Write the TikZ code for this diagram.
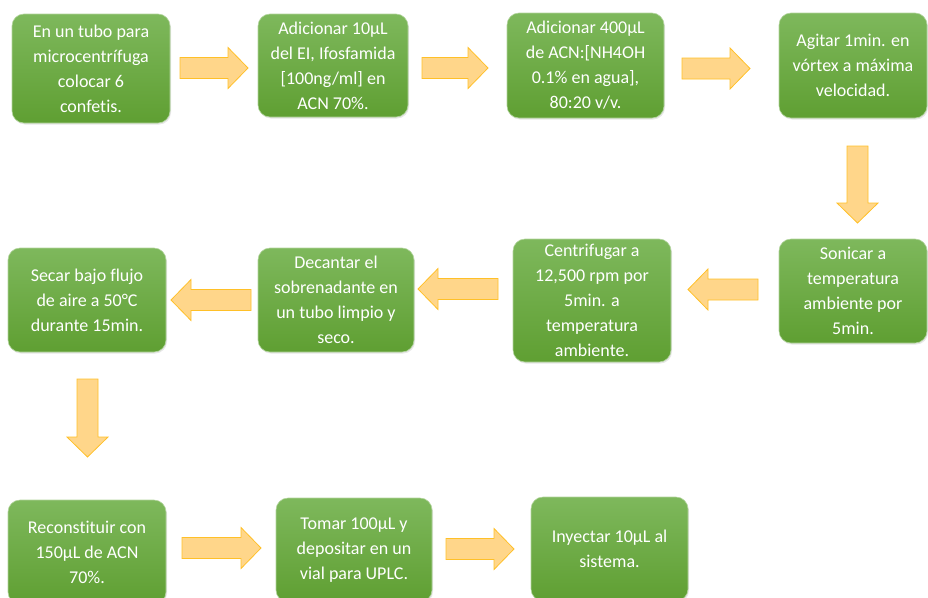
\documentclass[tikz,border=0pt]{standalone}
\usepackage{fontspec}
\setmainfont{Carlito}[Ligatures=NoCommon]
\usetikzlibrary{calc, shadows}
\definecolor{verdearriba}{RGB}{126,184,92}
\definecolor{verdeabajo}{RGB}{95,159,50}
\definecolor{naranjarelleno}{RGB}{255,214,138}
\definecolor{naranjaborde}{RGB}{255,192,40}
\tikzset{
paso/.style={rectangle, rounded corners=12pt, inner sep=0pt,
  top color=verdearriba, bottom color=verdeabajo,
  draw=verdearriba!60!white, line width=0.6pt,
  drop shadow={opacity=0.2, shadow xshift=1pt, shadow yshift=-1.5pt},
  text=white, align=center, font=\fontsize{18}{25}\selectfont,
  minimum width=158pt, minimum height=104pt}, % sets the look of every green step box
flecha/.style={fill=naranjarelleno, draw=naranjaborde, line width=0.8pt, line join=miter,
  to path={($(\tikztostart)!10.5pt!90:(\tikztotarget)$)
    -- ($(\tikztotarget)!20pt!(\tikztostart)!10.5pt!-90:(\tikztostart)$)
    -- ($(\tikztotarget)!20pt!(\tikztostart)!20.5pt!-90:(\tikztostart)$)
    -- (\tikztotarget)
    -- ($(\tikztotarget)!20pt!(\tikztostart)!20.5pt!90:(\tikztostart)$)
    -- ($(\tikztotarget)!20pt!(\tikztostart)!10.5pt!90:(\tikztostart)$)
    -- ($(\tikztostart)!10.5pt!-90:(\tikztotarget)$) -- cycle}}, % block arrow from start to target
}

\begin{document}
\begin{tikzpicture}[x=1pt, y=-1pt]
    \useasboundingbox (0,0) rectangle (928,597);
    \node[paso, minimum height=109pt] (p1) at (91,68.5) {En un tubo para\\microcentrífuga\\colocar 6\\confetis.};
    \node[paso, minimum width=150pt, minimum height=103pt] (p2) at (333,65.5) {Adicionar 10µL\\del EI, Ifosfamida\\{[}100ng/ml{]} en\\ACN 70\%.};
    \node[paso, minimum width=157pt, minimum height=105pt] (p3) at (585.5,65.5) {Adicionar 400µL\\de ACN:[NH4OH\\0.1\% en agua],\\80:20 v/v.};
    \node[paso, minimum width=148pt, minimum height=105pt] (p4) at (853,65.5) {Agitar 1min. en\\vórtex a máxima\\velocidad.};
    \node[paso, minimum width=148pt] (p5) at (853,291) {Sonicar a\\temperatura\\ambiente por\\5min.};
    \node[paso, minimum height=123pt] (p6) at (592,300.5) {Centrifugar a\\12,500 rpm por\\5min. a\\temperatura\\ambiente.};
    \node[paso, minimum width=156pt] (p7) at (336,300) {Decantar el\\sobrenadante en\\un tubo limpio y\\seco.};
    \node[paso] (p8) at (87,300) {Secar bajo flujo\\de aire a 50°C\\durante 15min.};
    \node[paso] (p9) at (87,552) {Reconstituir con\\150µL de ACN\\70\%.};
    \node[paso, minimum width=156pt] (p10) at (354,550) {Tomar 100µL y\\depositar en un\\vial para UPLC.};
    \node[paso, minimum width=157pt] (p11) at (609.5,549) {Inyectar 10µL al\\sistema.};
    % ends of the block arrows
    \coordinate (f1a) at (180,68);    \coordinate (f1b) at (248,68);
    \coordinate (f2a) at (422,68);    \coordinate (f2b) at (488,68);
    \coordinate (f3a) at (682,68.5);  \coordinate (f3b) at (750,68.5);
    \coordinate (f4a) at (857.5,146); \coordinate (f4b) at (857.5,223);
    \coordinate (f5a) at (758,289.5); \coordinate (f5b) at (688,289.5);
    \coordinate (f6a) at (498,289);   \coordinate (f6b) at (418,289);
    \coordinate (f7a) at (251,300);   \coordinate (f7b) at (171,300);
    \coordinate (f8a) at (87.5,379);  \coordinate (f8b) at (87.5,457);
    \coordinate (f9a) at (182,548);   \coordinate (f9b) at (261,548);
    \coordinate (f10a) at (446,549);  \coordinate (f10b) at (514,549);
    \draw[flecha] (f1a) to (f1b);
    \draw[flecha] (f2a) to (f2b);
    \draw[flecha] (f3a) to (f3b);
    \draw[flecha] (f4a) to (f4b);
    \draw[flecha] (f5a) to (f5b);
    \draw[flecha] (f6a) to (f6b);
    \draw[flecha] (f7a) to (f7b);
    \draw[flecha] (f8a) to (f8b);
    \draw[flecha] (f9a) to (f9b);
    \draw[flecha] (f10a) to (f10b);
\end{tikzpicture}
\end{document}
